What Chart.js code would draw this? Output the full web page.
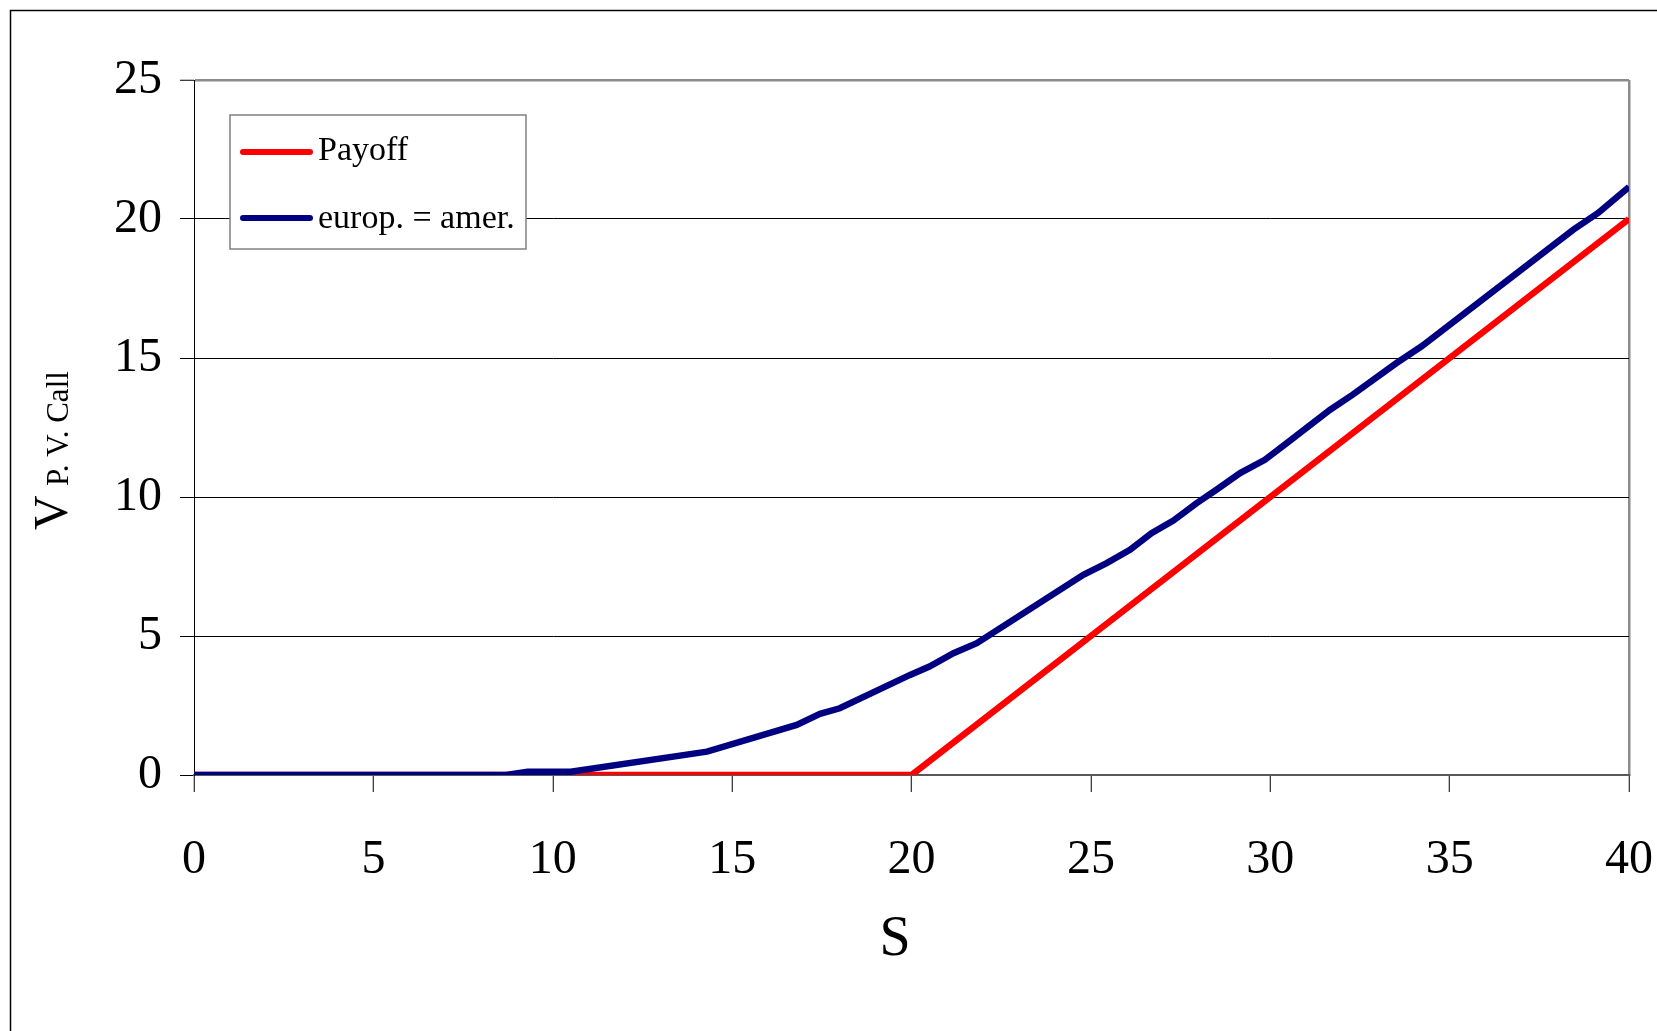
<!DOCTYPE html>
<html lang="de">
<head>
  <meta charset="UTF-8">
  <title>Call: Payoff und Optionswert</title>
  <style>
    html, body { margin: 0; padding: 0; background: #fff; }
    #wrap { width: 1657px; height: 1031px; }
  </style>
</head>
<body>
  <div id="wrap"><canvas id="callChart" width="1657" height="1031"></canvas></div>

  <script src="https://cdn.jsdelivr.net/npm/chart.js"></script>
  <script>
    // Daten
    const sPayoff = [0, 5, 10, 15, 20, 25, 30, 35, 40];
    const payoff  = [0, 0, 0, 0, 0, 5, 10, 15, 20];

    const sOption = [0, 4, 8, 8.7, 9.3, 10.5, 14.3, 16.8, 17.45, 18.0, 19.96, 20.5, 21.17, 21.82,
                     24.79, 25.44, 26.09, 26.69, 27.3, 27.95, 28.5, 29.16, 29.85, 30.46,
                     31.67, 32.3, 33.52, 34.22, 38.45, 39.14, 40];
    const optionValue = [0, 0, 0, 0, 0.12, 0.12, 0.84, 1.8, 2.2, 2.4, 3.6, 3.9, 4.38, 4.74,
                         7.2, 7.62, 8.1, 8.7, 9.15, 9.78, 10.26, 10.86, 11.34, 11.94,
                         13.14, 13.68, 14.82, 15.42, 19.62, 20.22, 21.15];

    const seriesLabels = ['Payoff', 'europ. = amer.'];
    const seriesColors = ['#ff0000', '#000080'];
    const xTitle = 'S';
    const yTitleMain = 'V';
    const yTitleSub = 'P. V. Call';

    const serif = "'Liberation Serif', 'Times New Roman', serif";

    // Rahmen, Legende und Achsentitel
    const extras = {
      id: 'extras',
      beforeDraw(chart) {
        const ctx = chart.ctx;
        ctx.save();
        ctx.fillStyle = '#fff';
        ctx.fillRect(0, 0, chart.width, chart.height);
        ctx.strokeStyle = '#000';
        ctx.lineWidth = 1.5;
        ctx.beginPath();
        ctx.moveTo(10.5, chart.height);
        ctx.lineTo(10.5, 10.5);
        ctx.lineTo(chart.width, 10.5);
        ctx.stroke();
        ctx.restore();
      },
      afterDraw(chart) {
        const ctx = chart.ctx;
        ctx.save();

        // Legende
        ctx.fillStyle = '#fff';
        ctx.fillRect(230, 115, 296, 134);
        ctx.strokeStyle = '#808080';
        ctx.lineWidth = 1.5;
        ctx.strokeRect(230, 115, 296, 134);
        const rows = [152, 218];
        const bases = [160, 228];
        chart.data.datasets.forEach((ds, i) => {
          ctx.strokeStyle = ds.borderColor;
          ctx.lineWidth = 6;
          ctx.lineCap = 'round';
          ctx.beginPath();
          ctx.moveTo(243, rows[i]);
          ctx.lineTo(310, rows[i]);
          ctx.stroke();
          ctx.fillStyle = '#000';
          ctx.font = '34px ' + serif;
          ctx.textAlign = 'left';
          ctx.textBaseline = 'alphabetic';
          ctx.fillText(ds.label, 318, bases[i]);
        });

        // x-Titel
        ctx.fillStyle = '#000';
        ctx.font = '56px ' + serif;
        ctx.textAlign = 'center';
        ctx.fillText(xTitle, 895, 955);

        // y-Titel mit Index
        ctx.translate(67, 530);
        ctx.rotate(-Math.PI / 2);
        ctx.textAlign = 'left';
        ctx.font = '48px ' + serif;
        ctx.fillText(yTitleMain, 0, 0);
        ctx.font = '31px ' + serif;
        ctx.fillText(yTitleSub, 44, 1);

        ctx.restore();
      }
    };

    const ctx = document.getElementById('callChart').getContext('2d');
    new Chart(ctx, {
      type: 'line',
      data: {
        datasets: [
          {
            label: seriesLabels[0],
            data: sPayoff.map((s, i) => ({ x: s, y: payoff[i] })),
            borderColor: seriesColors[0],
            borderWidth: 6.5,
            pointRadius: 0,
            tension: 0,
            order: 1
          },
          {
            label: seriesLabels[1],
            data: sOption.map((s, i) => ({ x: s, y: optionValue[i] })),
            borderColor: seriesColors[1],
            borderWidth: 6.5,
            pointRadius: 0,
            tension: 0,
            order: 0
          }
        ]
      },
      options: {
        responsive: false,
        animation: false,
        layout: { padding: { top: 80, right: 28, left: 0, bottom: 0 } },
        plugins: {
          legend: { display: false },
          tooltip: { enabled: false }
        },
        scales: {
          x: {
            type: 'linear',
            min: 0,
            max: 40,
            afterFit(scale) {
              scale.height = 256;
              scale.paddingLeft = 0;
              scale.paddingRight = 0;
            },
            ticks: { stepSize: 5, padding: 40, color: '#000', font: { family: serif, size: 48 } },
            grid: {
              color: c => (c.tick && c.tick.value === 40) ? '#8c8c8c' : 'rgba(0,0,0,0)',
              lineWidth: 2.5,
              tickColor: '#000',
              tickWidth: 1,
              tickLength: 17
            },
            border: { color: '#595959', width: 2 }
          },
          y: {
            min: 0,
            max: 25,
            afterFit(scale) { scale.width = 194; },
            ticks: { stepSize: 5, padding: 18, color: '#000', font: { family: serif, size: 48 } },
            grid: {
              color: c => {
                if (!c.tick) return '#000';
                if (c.tick.value === 25) return '#8c8c8c';
                if (c.tick.value === 0) return 'rgba(0,0,0,0)';
                return '#000';
              },
              lineWidth: c => (c.tick && c.tick.value === 25) ? 2.5 : 1,
              tickColor: '#000',
              tickWidth: 1,
              tickLength: 14
            },
            border: { color: '#000', width: 1 }
          }
        }
      },
      plugins: [extras]
    });
  </script>
</body>
</html>
